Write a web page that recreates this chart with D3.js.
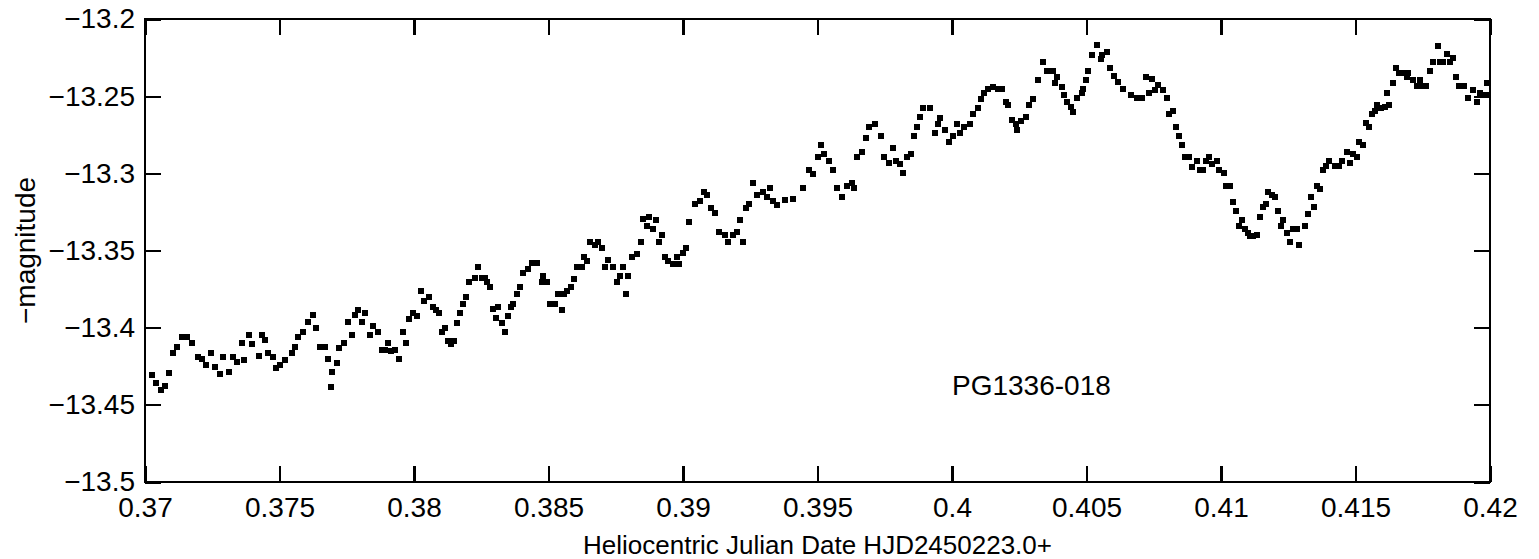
<!DOCTYPE html>
<html>
<head>
<meta charset="utf-8">
<script src="https://cdn.jsdelivr.net/npm/d3@7"></script>
<style>
  html, body { margin: 0; padding: 0; background: #fff; }
  svg { display: block; }
  text { font-family: "Liberation Sans", Arial, Helvetica, sans-serif; fill: #000; }
</style>
</head>
<body>
<svg id="chart" width="1539" height="559"></svg>
<script>
// Light curve of PG1336-018: heliocentric Julian date (fraction) vs. negative magnitude
const hjd = [
  0.37026, 0.37041, 0.37059, 0.37074, 0.37089, 0.37104, 0.37119, 0.37138, 0.37156, 0.37175,
  0.37197, 0.37212, 0.37227, 0.37245, 0.37260, 0.37279, 0.37290, 0.37312, 0.37327, 0.37342,
  0.37361, 0.37368, 0.37387, 0.37398, 0.37424, 0.37435, 0.37446, 0.37457, 0.37476, 0.37487,
  0.37502, 0.37520, 0.37546, 0.37558, 0.37569, 0.37587, 0.37606, 0.37624, 0.37636, 0.37650,
  0.37669, 0.37680, 0.37691, 0.37695, 0.37714, 0.37721, 0.37740, 0.37755, 0.37769, 0.37781,
  0.37792, 0.37807, 0.37818, 0.37836, 0.37847, 0.37866, 0.37881, 0.37892, 0.37903, 0.37914,
  0.37929, 0.37944, 0.37959, 0.37970, 0.37981, 0.37996, 0.38011, 0.38026, 0.38037, 0.38056,
  0.38071, 0.38082, 0.38093, 0.38104, 0.38115, 0.38126, 0.38137, 0.38149, 0.38160, 0.38171,
  0.38182, 0.38193, 0.38204, 0.38227, 0.38238, 0.38253, 0.38264, 0.38271, 0.38282, 0.38294,
  0.38305, 0.38312, 0.38327, 0.38338, 0.38349, 0.38360, 0.38368, 0.38383, 0.38394, 0.38405,
  0.38424, 0.38438, 0.38457, 0.38476, 0.38479, 0.38494, 0.38505, 0.38524, 0.38535, 0.38550,
  0.38557, 0.38569, 0.38583, 0.38595, 0.38606, 0.38624, 0.38632, 0.38643, 0.38654, 0.38673,
  0.38684, 0.38699, 0.38710, 0.38721, 0.38740, 0.38754, 0.38766, 0.38777, 0.38788, 0.38795,
  0.38810, 0.38829, 0.38844, 0.38851, 0.38866, 0.38873, 0.38888, 0.38899, 0.38911, 0.38922,
  0.38933, 0.38944, 0.38963, 0.38977, 0.38985, 0.39000, 0.39011, 0.39022, 0.39044, 0.39063,
  0.39078, 0.39089, 0.39104, 0.39119, 0.39134, 0.39156, 0.39167, 0.39186, 0.39200, 0.39212,
  0.39223, 0.39234, 0.39245, 0.39260, 0.39275, 0.39297, 0.39312, 0.39323, 0.39334, 0.39349,
  0.39379, 0.39409, 0.39446, 0.39468, 0.39483, 0.39502, 0.39513, 0.39524, 0.39542, 0.39557,
  0.39572, 0.39591, 0.39609, 0.39628, 0.39635, 0.39647, 0.39665, 0.39680, 0.39691, 0.39713,
  0.39736, 0.39747, 0.39765, 0.39780, 0.39791, 0.39806, 0.39817, 0.39832, 0.39847, 0.39858,
  0.39870, 0.39881, 0.39892, 0.39918, 0.39936, 0.39948, 0.39955, 0.39974, 0.39988, 0.40003,
  0.40018, 0.40029, 0.40044, 0.40067, 0.40078, 0.40096, 0.40107, 0.40119, 0.40133, 0.40152,
  0.40171, 0.40186, 0.40200, 0.40208, 0.40223, 0.40238, 0.40241, 0.40256, 0.40275, 0.40286,
  0.40301, 0.40319, 0.40338, 0.40353, 0.40375, 0.40382, 0.40390, 0.40409, 0.40416, 0.40427,
  0.40442, 0.40449, 0.40464, 0.40483, 0.40487, 0.40498, 0.40505, 0.40520, 0.40539, 0.40554,
  0.40557, 0.40576, 0.40587, 0.40602, 0.40617, 0.40635, 0.40665, 0.40687, 0.40706, 0.40721,
  0.40732, 0.40743, 0.40754, 0.40765, 0.40784, 0.40799, 0.40806, 0.40821, 0.40832, 0.40843,
  0.40855, 0.40866, 0.40881, 0.40892, 0.40910, 0.40921, 0.40933, 0.40944, 0.40955, 0.40966,
  0.40985, 0.40992, 0.41011, 0.41018, 0.41033, 0.41044, 0.41055, 0.41066, 0.41078, 0.41089,
  0.41100, 0.41107, 0.41118, 0.41133, 0.41144, 0.41155, 0.41167, 0.41174, 0.41189, 0.41200,
  0.41211, 0.41223, 0.41230, 0.41245, 0.41256, 0.41267, 0.41282, 0.41289, 0.41312, 0.41323,
  0.41334, 0.41345, 0.41356, 0.41368, 0.41379, 0.41390, 0.41401, 0.41423, 0.41438, 0.41449,
  0.41468, 0.41479, 0.41490, 0.41505, 0.41512, 0.41527, 0.41538, 0.41550, 0.41561, 0.41572,
  0.41579, 0.41594, 0.41609, 0.41617, 0.41624, 0.41639, 0.41650, 0.41661, 0.41676, 0.41691,
  0.41695, 0.41713, 0.41728, 0.41739, 0.41747, 0.41762, 0.41776, 0.41788, 0.41806, 0.41814,
  0.41825, 0.41840, 0.41851, 0.41862, 0.41873, 0.41884, 0.41903, 0.41918, 0.41936, 0.41951,
  0.41962, 0.41973, 0.41988, 0.41992
];

const negMag = [
  -13.4307, -13.4359, -13.4404, -13.4378, -13.4294, -13.4164, -13.4125, -13.4061, -13.4061, -13.4100,
  -13.4190, -13.4203, -13.4242, -13.4164, -13.4255, -13.4300, -13.4190, -13.4287, -13.4190, -13.4223,
  -13.4100, -13.4210, -13.4048, -13.4106, -13.4184, -13.4048, -13.4080, -13.4164, -13.4190, -13.4262,
  -13.4242, -13.4210, -13.4164, -13.4125, -13.4061, -13.4028, -13.3963, -13.3918, -13.4002, -13.4125,
  -13.4125, -13.4203, -13.4385, -13.4287, -13.4229, -13.4132, -13.4100, -13.3963, -13.4048, -13.3918,
  -13.3886, -13.3963, -13.3905, -13.4048, -13.3989, -13.4028, -13.4145, -13.4145, -13.4100, -13.4151,
  -13.4145, -13.4203, -13.4028, -13.4100, -13.3944, -13.3905, -13.3925, -13.3763, -13.3827, -13.3801,
  -13.3866, -13.3886, -13.3905, -13.4028, -13.4002, -13.4087, -13.4106, -13.4087, -13.3970, -13.3905,
  -13.3847, -13.3801, -13.3704, -13.3678, -13.3607, -13.3678, -13.3678, -13.3704, -13.3737, -13.3879,
  -13.3938, -13.3866, -13.3970, -13.4028, -13.3925, -13.3866, -13.3847, -13.3782, -13.3737, -13.3646,
  -13.3620, -13.3581, -13.3581, -13.3704, -13.3665, -13.3704, -13.3847, -13.3847, -13.3782, -13.3886,
  -13.3782, -13.3763, -13.3737, -13.3685, -13.3607, -13.3607, -13.3542, -13.3568, -13.3445, -13.3464,
  -13.3445, -13.3484, -13.3607, -13.3562, -13.3607, -13.3704, -13.3665, -13.3607, -13.3782, -13.3665,
  -13.3542, -13.3523, -13.3445, -13.3296, -13.3341, -13.3283, -13.3361, -13.3302, -13.3445, -13.3400,
  -13.3542, -13.3568, -13.3588, -13.3542, -13.3588, -13.3516, -13.3484, -13.3315, -13.3199, -13.3179,
  -13.3121, -13.3140, -13.3225, -13.3257, -13.3380, -13.3400, -13.3445, -13.3400, -13.3380, -13.3302,
  -13.3445, -13.3225, -13.3199, -13.3063, -13.3140, -13.3121, -13.3153, -13.3095, -13.3179, -13.3205,
  -13.3173, -13.3166, -13.3095, -13.2978, -13.3004, -13.2894, -13.2816, -13.2875, -13.2920, -13.2978,
  -13.3095, -13.3153, -13.3082, -13.3063, -13.3095, -13.2894, -13.2862, -13.2771, -13.2700, -13.2680,
  -13.2758, -13.2894, -13.2933, -13.2836, -13.2920, -13.2940, -13.2998, -13.2894, -13.2875, -13.2758,
  -13.2700, -13.2635, -13.2577, -13.2577, -13.2739, -13.2680, -13.2642, -13.2719, -13.2797, -13.2758,
  -13.2680, -13.2739, -13.2700, -13.2680, -13.2616, -13.2577, -13.2518, -13.2480, -13.2454, -13.2441,
  -13.2454, -13.2454, -13.2538, -13.2557, -13.2654, -13.2680, -13.2719, -13.2661, -13.2635, -13.2557,
  -13.2518, -13.2395, -13.2279, -13.2337, -13.2337, -13.2415, -13.2376, -13.2441, -13.2492, -13.2538,
  -13.2570, -13.2603, -13.2512, -13.2480, -13.2454, -13.2395, -13.2337, -13.2233, -13.2168, -13.2259,
  -13.2233, -13.2214, -13.2318, -13.2369, -13.2408, -13.2454, -13.2492, -13.2512, -13.2512, -13.2376,
  -13.2480, -13.2389, -13.2460, -13.2428, -13.2460, -13.2512, -13.2616, -13.2596, -13.2700, -13.2758,
  -13.2816, -13.2894, -13.2894, -13.2959, -13.2920, -13.2978, -13.2978, -13.2920, -13.2894, -13.2940,
  -13.2920, -13.2978, -13.2998, -13.3082, -13.3082, -13.3186, -13.3244, -13.3341, -13.3302, -13.3361,
  -13.3387, -13.3406, -13.3406, -13.3400, -13.3283, -13.3218, -13.3199, -13.3121, -13.3140, -13.3153,
  -13.3244, -13.3341, -13.3302, -13.3387, -13.3445, -13.3361, -13.3361, -13.3464, -13.3341, -13.3264,
  -13.3153, -13.3218, -13.3082, -13.3102, -13.2978, -13.2953, -13.2920, -13.2953, -13.2953, -13.2920,
  -13.2862, -13.2933, -13.2875, -13.2894, -13.2797, -13.2816, -13.2674, -13.2700, -13.2616, -13.2596,
  -13.2557, -13.2577, -13.2570, -13.2480, -13.2557, -13.2415, -13.2318, -13.2350, -13.2350, -13.2376,
  -13.2350, -13.2395, -13.2434, -13.2395, -13.2434, -13.2434, -13.2337, -13.2279, -13.2175, -13.2279,
  -13.2279, -13.2227, -13.2279, -13.2253, -13.2376, -13.2434, -13.2434, -13.2512, -13.2460, -13.2538,
  -13.2480, -13.2492, -13.2415, -13.2492
];

const xTicks = [0.37, 0.375, 0.38, 0.385, 0.39, 0.395, 0.4, 0.405, 0.41, 0.415, 0.42];
const yTicks = [-13.5, -13.45, -13.4, -13.35, -13.3, -13.25, -13.2];
const xTitle = "Heliocentric Julian Date HJD2450223.0+";
const yTitle = "\u2212magnitude";
const starName = "PG1336-018";

const svg = d3.select("#chart");
const box = { left: 145, top: 19, right: 1490, bottom: 482 };

const x = d3.scaleLinear().domain([0.37, 0.42]).range([box.left, box.right]);
const y = d3.scaleLinear().domain([-13.5, -13.2]).range([box.bottom, box.top]);

const fmt = v => {
  const s = String(+v.toFixed(3));
  return s.replace("-", "\u2212");
};

const tickLen = 16;
const fontSize = 28;

// frame
svg.append("rect")
  .attr("x", box.left).attr("y", box.top)
  .attr("width", box.right - box.left).attr("height", box.bottom - box.top)
  .attr("fill", "none").attr("stroke", "#000").attr("stroke-width", 2.2)
  .attr("shape-rendering", "crispEdges");

function styleAxis(g, showText) {
  g.select(".domain").remove();
  g.selectAll(".tick line").attr("stroke", "#000").attr("stroke-width", 2.2)
    .attr("shape-rendering", "crispEdges");
  if (!showText) g.selectAll(".tick text").remove();
  else g.selectAll(".tick text").attr("font-size", fontSize).attr("fill", "#000")
    .attr("font-family", "'Liberation Sans', Arial, Helvetica, sans-serif");
}

svg.append("g").attr("transform", `translate(0,${box.bottom})`)
  .call(d3.axisBottom(x).tickValues(xTicks).tickFormat(fmt).tickSizeInner(-tickLen).tickSizeOuter(0).tickPadding(15))
  .call(g => styleAxis(g, true));

svg.append("g").attr("transform", `translate(0,${box.top})`)
  .call(d3.axisTop(x).tickValues(xTicks).tickSizeInner(-tickLen).tickSizeOuter(0))
  .call(g => styleAxis(g, false));

svg.append("g").attr("transform", `translate(${box.left},0)`)
  .call(d3.axisLeft(y).tickValues(yTicks).tickFormat(fmt).tickSizeInner(-tickLen).tickSizeOuter(0).tickPadding(10))
  .call(g => styleAxis(g, true));

svg.append("g").attr("transform", `translate(${box.right},0)`)
  .call(d3.axisRight(y).tickValues(yTicks).tickSizeInner(-tickLen).tickSizeOuter(0))
  .call(g => styleAxis(g, false));

// observations
const pts = hjd.map((t, i) => ({ t, m: negMag[i] }));
const s = 6;
svg.append("g").selectAll("rect").data(pts).join("rect")
  .attr("x", d => Math.round(x(d.t) - s / 2))
  .attr("y", d => Math.round(y(d.m) - s / 2))
  .attr("width", s).attr("height", s)
  .attr("fill", "#000")
  .attr("shape-rendering", "crispEdges");

// titles
svg.append("text")
  .attr("x", (box.left + box.right) / 2).attr("y", 554)
  .attr("text-anchor", "middle").attr("font-size", 26)
  .text(xTitle);

svg.append("text")
  .attr("transform", `translate(35,${(box.top + box.bottom) / 2}) rotate(-90)`)
  .attr("text-anchor", "middle").attr("font-size", fontSize)
  .text(yTitle);

svg.append("text")
  .attr("x", x(0.4)).attr("y", 395)
  .attr("font-size", fontSize)
  .text(starName);
</script>
</body>
</html>
